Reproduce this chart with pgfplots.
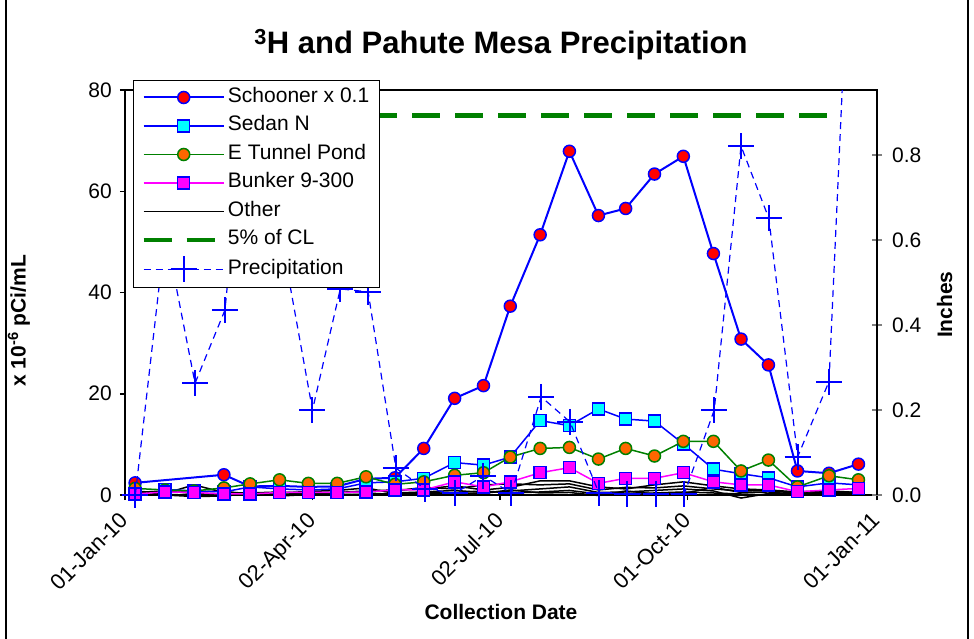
\documentclass[border=0pt]{standalone}
\usepackage{fontspec}
\setmainfont{Liberation Sans}
\usepackage{pgfplots}
\pgfplotsset{compat=1.18}

\definecolor{cblue}{RGB}{0,0,255}
\definecolor{cgreen}{RGB}{0,128,0}
\definecolor{corange}{RGB}{255,102,0}
\definecolor{ccyan}{RGB}{0,255,255}
\definecolor{cmag}{RGB}{255,0,255}

\newcommand{\tickfont}{\fontsize{21}{25}\selectfont}
\newcommand{\xtickfont}{\fontsize{22}{26}\selectfont}
\newcommand{\legfont}{\fontsize{21}{25}\selectfont}
\newcommand{\labfont}{\fontsize{21}{25}\selectfont\bfseries}
\newcommand{\titfont}{\fontsize{31}{37}\selectfont\bfseries}

\pgfplotsset{
  common/.style={
    scale only axis, width=752pt, height=405pt,
    at={(125pt,143pt)}, anchor=south west,
    xmin=0, xmax=365,
  }
}

\begin{document}
\begin{tikzpicture}[x=1pt,y=1pt]
\useasboundingbox (0,0) rectangle (974,638);
\draw[line width=1.5pt] (6,-10) -- (6,648);
\draw[line width=1.5pt] (968,-10) -- (968,648);

\begin{axis}[common,
  ymin=0, ymax=80, clip=false,
  axis line style={line width=2pt, black},
  xtick={0,91,182,273,365},
  xticklabels={01-Jan-10,02-Apr-10,02-Jul-10,01-Oct-10,01-Jan-11},
  ytick={0,20,40,60,80}, yticklabels={0,20,40,60,80},
  tick pos=left, tick align=outside, major tick length=5pt,
  tick style={black, line width=1.5pt},
  tick label style={font=\tickfont},
  xticklabel style={font=\xtickfont, rotate=45, anchor=north east, inner sep=0pt, xshift=-12pt, yshift=-3pt},
  yticklabel style={inner sep=0pt, xshift=-8pt},
  xlabel={Collection Date},
  xlabel style={font=\labfont, at={(axis description cs:0.5,-0.289)}, anchor=center},
  ylabel={x 10\textsuperscript{-6} pCi/mL},
  ylabel style={font=\labfont, at={(axis description cs:-0.141,0.43)}, anchor=center},
  title={\textsuperscript{3}H and Pahute Mesa Precipitation},
  title style={font=\titfont, at={(axis description cs:0.5,1.097)}, anchor=center},
]
% Other (black)
\addplot[black, line width=1.5pt] coordinates {(4.9,0.8)(19.4,0.3)(33.5,2.0)(48,0.5)(60.7,0.4)(75,0.6)(89,0.3)(103,0.5)(117,0.8)(131,1.0)(145,1.2)(160,1.8)(174,1.0)(187,1.5)(201.5,2.8)(215.7,2.8)(229.8,1.6)(243,1.2)(257,2.0)(271,2.6)(285.6,1.8)(299,1.2)(312.3,1.0)(326.4,0.6)(341.7,0.8)(356,0.5)};
\addplot[black, line width=1.5pt] coordinates {(4.9,0.2)(19.4,0.0)(33.5,-0.3)(48,-0.2)(60.7,0.3)(75,0.1)(89,0.4)(103,0.2)(117,0.0)(131,0.4)(145,0.6)(160,0.9)(174,0.5)(187,0.8)(201.5,1.2)(215.7,1.6)(229.8,0.5)(243,0.6)(257,0.9)(271,1.2)(285.6,0.8)(299,-0.6)(312.3,0.3)(326.4,0.2)(341.7,0.6)(356,0.0)};
\addplot[black, line width=1.5pt] coordinates {(4.9,-0.2)(19.4,0.5)(33.5,0.6)(48,0.8)(60.7,0.0)(75,0.4)(89,0.7)(103,0.9)(117,1.4)(131,0.3)(145,0.2)(160,0.5)(174,0.8)(187,0.4)(201.5,0.6)(215.7,0.9)(229.8,0.2)(243,0.3)(257,0.4)(271,0.6)(285.6,0.4)(299,0.2)(312.3,0.0)(326.4,0.5)(341.7,0.2)(356,0.4)};
\addplot[black, line width=1.5pt] coordinates {(131,0.8)(145,1.5)(160,1.2)(174,2.0)(187,2.2)(201.5,2.0)(215.7,2.2)(229.8,1.0)(243,1.5)(257,1.4)(271,1.8)(285.6,1.2)(299,0.8)(312.3,0.9)(326.4,0.3)(341.7,0.4)(356,0.6)};
\addplot[black, line width=1.5pt] coordinates {(4.9,0.5)(19.4,0.8)(33.5,0.3)(48,0.0)(60.7,0.6)(75,-0.2)(89,0.1)(103,0.6)(117,0.4)(131,0.1)(145,0.5)(160,0.3)(174,0.3)(187,1.0)(201.5,0.4)(215.7,0.5)(229.8,-0.1)(243,0.8)(257,0.2)(271,0.3)(285.6,1.5)(299,0.5)(312.3,0.6)(326.4,0.1)(341.7,0.3)(356,0.2)};
% Schooner x 0.1
\addplot[cblue, line width=2pt, mark=*, mark size=6pt, mark options={fill=red, draw=cblue, line width=1.5pt}] coordinates {(4.9,2.4)(48,4.0)(60.7,1.7)(75,1.8)(89,1.6)(103,1.7)(117,3.2)(131,3.4)(145,9.2)(160,19.1)(174,21.6)(187,37.3)(201.5,51.4)(215.7,67.9)(229.8,55.2)(243,56.6)(257,63.4)(271,66.9)(285.6,47.7)(299,30.8)(312.3,25.7)(326.4,4.75)(341.7,4.3)(356,6.1)};
% Sedan N
\addplot[cblue, line width=1.5pt, mark=square*, mark size=6pt, mark options={fill=ccyan, draw=cblue, line width=1.5pt}] coordinates {(19.4,1.1)(33.5,0.8)(48,0.6)(60.7,1.6)(75,1.2)(89,1.0)(103,1.2)(117,2.4)(131,2.6)(145,3.3)(160,6.4)(174,5.9)(187,7.5)(201.5,14.7)(215.7,13.7)(229.8,17.0)(243,15.0)(257,14.6)(271,10.1)(285.6,5.1)(299,4.2)(312.3,3.4)(326.4,1.6)(341.7,2.4)(356,2.0)};
% E Tunnel Pond
\addplot[cgreen, line width=1.5pt, mark=*, mark size=6pt, mark options={fill=corange, draw=cgreen, line width=1.5pt}] coordinates {(4.9,1.3)(19.4,1.0)(33.5,0.8)(48,1.4)(60.7,2.2)(75,3.0)(89,2.3)(103,2.3)(117,3.6)(131,2.1)(145,2.6)(160,3.9)(174,4.4)(187,7.5)(201.5,9.2)(215.7,9.4)(229.8,7.1)(243,9.2)(257,7.7)(271,10.6)(285.6,10.6)(299,4.75)(312.3,6.9)(326.4,1.6)(341.7,3.8)(356,3.0)};
% Bunker 9-300
\addplot[cmag, line width=1.5pt, mark=square*, mark size=6pt, mark options={fill=cmag, draw=cblue, line width=1.5pt}] coordinates {(4.9,0.2)(19.4,0.6)(33.5,0.5)(48,0.2)(60.7,0.2)(75,0.5)(89,0.5)(103,0.5)(117,0.6)(131,1.0)(145,1.0)(160,2.6)(174,1.6)(187,2.6)(201.5,4.4)(215.7,5.4)(229.8,2.3)(243,3.3)(257,3.3)(271,4.4)(285.6,2.6)(299,2.0)(312.3,2.0)(326.4,0.65)(341.7,1.0)(356,1.3)};
% 5% of CL
\addplot[cgreen, line width=4.5pt, dash pattern=on 28pt off 15pt, dash phase=24pt] coordinates {(4.9,75)(341.7,75)};
\end{axis}

\begin{axis}[common,
  ymin=0, ymax=0.953,
  axis x line=none, axis y line*=right,
  y axis line style={line width=2pt, black},
  ytick={0,0.2,0.4,0.6,0.8}, yticklabels={0.0,0.2,0.4,0.6,0.8},
  tick align=center, major tick length=10pt,
  ytick style={gray, line width=1.5pt},
  yticklabel style={font=\tickfont, inner sep=0pt, xshift=10pt},
  ylabel={Inches},
  ylabel style={font=\labfont, at={(axis description cs:1.09,0.47)}, anchor=center},
  legend image code/.code={\draw[mark repeat=2,mark phase=2,#1] plot coordinates {(0pt,0pt) (40pt,0pt) (80pt,0pt)};},
  legend style={at={(axis description cs:0.0106,1.0247)}, anchor=north west,
    draw=black, line width=1pt, fill=white, font=\legfont,
    inner xsep=8pt, inner ysep=5pt, row sep=4.5pt,
    nodes={inner sep=2pt, text height=15pt, text depth=5pt}},
  legend cell align=left,
]
\addlegendimage{cblue, line width=2pt, mark=*, mark size=6pt, mark options={fill=red, draw=cblue, line width=1.5pt}}
\addlegendentry{Schooner x 0.1}
\addlegendimage{cblue, line width=1.5pt, mark=square*, mark size=6pt, mark options={fill=ccyan, draw=cblue, line width=1.5pt}}
\addlegendentry{Sedan N}
\addlegendimage{cgreen, line width=1.5pt, mark=*, mark size=6pt, mark options={fill=corange, draw=cgreen, line width=1.5pt}}
\addlegendentry{E Tunnel Pond}
\addlegendimage{cmag, line width=1.5pt, mark=square*, mark size=6pt, mark options={fill=cmag, draw=cblue, line width=1.5pt}}
\addlegendentry{Bunker 9-300}
\addlegendimage{black, line width=1.5pt}
\addlegendentry{Other}
\addlegendimage{cgreen, line width=4.5pt, dash pattern=on 28pt off 15pt}
\addlegendentry{5\% of CL}
\addplot[cblue, line width=1.2pt, dash pattern=on 7pt off 5pt, mark=+, mark size=13pt, mark options={solid, line width=2pt, draw=cblue}] coordinates {(5,0)(19.6,0.62)(34,0.263)(48.5,0.435)(62,1.1)(76.5,0.59)(91,0.2)(104.5,0.485)(118,0.478)(131.5,0.063)(145.5,0.015)(160,0.004)(174,0.045)(187.5,0.004)(202,0.231)(216,0.172)(230,0.005)(243.5,0.003)(257.5,0.003)(271.5,0.003)(286,0.2)(299,0.821)(312.5,0.651)(326.5,0.09)(341.7,0.267)(356,1.8)};
\addlegendentry{Precipitation}
\end{axis}
\end{tikzpicture}
\end{document}
